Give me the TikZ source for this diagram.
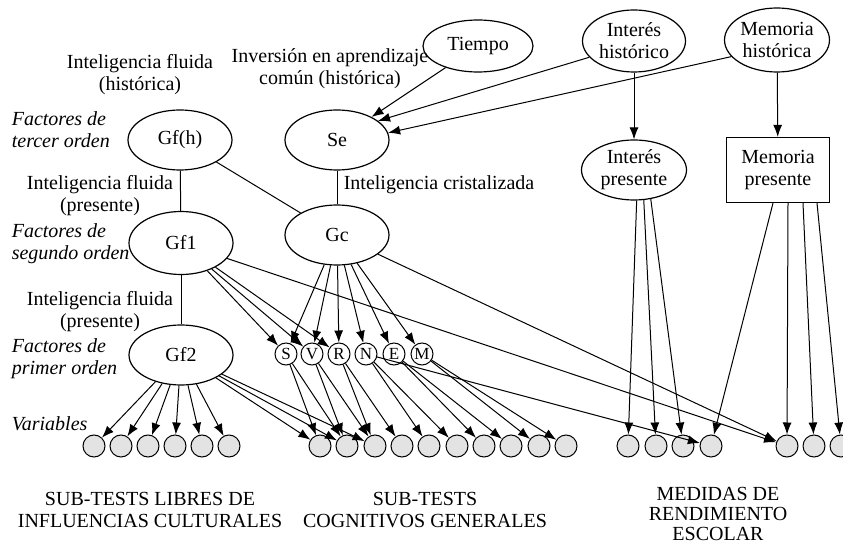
\documentclass[tikz,border=0pt]{standalone}
\usepackage{fontspec}
\setmainfont{Liberation Serif}
\usetikzlibrary{shapes.geometric,arrows.meta}

\begin{document}
\begin{tikzpicture}[x=1pt, y=-1pt, line width=1pt,
   every node/.style={font=\fontsize{20}{22}\selectfont, align=center},
   factor/.style={ellipse, draw, line width=1.2pt, inner sep=0pt, minimum width=104pt, minimum height=60pt},
   test/.style={circle, draw, inner sep=0pt, minimum size=22pt, font=\fontsize{17}{17}\selectfont},
   var/.style={circle, draw, fill=gray!22, inner sep=0pt, minimum size=22pt},
   load/.style={-{Latex[length=12pt, width=9pt]}},
   ordlabel/.style={anchor=west, align=left, font=\fontsize{20}{22}\selectfont\itshape}]
   \useasboundingbox (0,0) rectangle (843,545);

   % Factors
   \node[factor] (GfH) at (180,140) {Gf(h)};
   \node[factor] (Se) at (337,140) {Se};
   \node[factor, minimum height=63pt] (Gf1) at (181,243) {Gf1};
   \node[factor] (Gc) at (337,235) {Gc};
   \node[factor] (Gf2) at (181,355) {Gf2};
   \node[factor, minimum width=110pt, minimum height=52pt] (Tiempo) at (478,46) {Tiempo};
   \node[factor, minimum width=103pt, minimum height=62pt] (IntH) at (634,41) {Interés\\histórico};
   \node[factor, minimum width=105pt, minimum height=64pt] (MemH) at (777,40) {Memoria\\histórica};
   \node[factor, minimum width=105pt] (IntP) at (634,170) {Interés\\presente};
   \node[draw, line width=1.2pt, minimum width=103pt, minimum height=65pt, inner sep=0pt] (MemP) at (778,170) {Memoria\\presente};

   % Tests
   \node[test] (tS) at (286,354) {S};
   \node[test] (tV) at (312,354) {V};
   \node[test] (tR) at (339,354) {R};
   \node[test] (tN) at (366,354) {N};
   \node[test] (tE) at (394,354) {E};
   \node[test] (tM) at (422,354) {M};

   % Variables
   \node[var] (l1) at (94,446) {};
   \node[var] (l2) at (121,446) {};
   \node[var] (l3) at (148,446) {};
   \node[var] (l4) at (175,446) {};
   \node[var] (l5) at (202,446) {};
   \node[var] (l6) at (229,446) {};
   \node[var] (c1) at (320,446) {};
   \node[var] (c2) at (347,446) {};
   \node[var] (c3) at (375,446) {};
   \node[var] (c4) at (402,446) {};
   \node[var] (c5) at (429,446) {};
   \node[var] (c6) at (457,446) {};
   \node[var] (c7) at (484,446) {};
   \node[var] (c8) at (511,446) {};
   \node[var] (c9) at (539,446) {};
   \node[var] (c10) at (566,446) {};
   \node[var] (i1) at (628,446) {};
   \node[var] (i2) at (656,446) {};
   \node[var] (i3) at (683,446) {};
   \node[var] (i4) at (711,446) {};
   \node[var] (m1) at (787,446) {};
   \node[var] (m2) at (814,446) {};
   \node[var] (m3) at (841,446) {};

   % Labels
   \node (lblGfH) at (140,75) {Inteligencia fluida\\(histórica)};
   \node (lblSe) at (330,69) {Inversión en aprendizaje\\común (histórica)};
   \node (lblGf1) at (100,196) {Inteligencia fluida\\(presente)};
   \node[anchor=west] (lblGc) at (340,185) {Inteligencia cristalizada};
   \node (lblGf2) at (100,312) {Inteligencia fluida\\(presente)};
   \node[ordlabel] (ord3) at (8,130) {Factores de\\tercer orden};
   \node[ordlabel] (ord2) at (8,244) {Factores de\\segundo orden};
   \node[ordlabel] (ord1) at (8,359) {Factores de\\primer orden};
   \node[ordlabel] (ordVar) at (8,424) {Variables};
   \node (lblCult) at (150,510) {SUB-TESTS LIBRES DE\\INFLUENCIAS CULTURALES};
   \node (lblCog) at (425,510) {SUB-TESTS\\COGNITIVOS GENERALES};
   \node[font=\fontsize{20}{20}\selectfont, inner sep=1pt] (lblEsc) at (718,514) {MEDIDAS DE\\RENDIMIENTO\\ESCOLAR};

   % Links between factors
   \draw (GfH) -- (Gf1);
   \draw (GfH) -- (Gc);
   \draw (Se) -- (Gc);
   \draw (Gf1) -- (Gf2);
   \draw[load] (Tiempo) -- (Se);
   \draw[load] (IntH.200) -- (Se.25);
   \draw[load] (MemH.200) -- (Se.8);
   \draw[load] (IntH) -- (IntP);
   \draw[load] (MemH) -- (MemP);

   % Second order to tests
   \draw[load] (Gf1) -- (tS);
   \draw[load] (Gf1) -- (tV);
   \draw[load] (Gf1) -- (tR);
   \draw[load] (Gf1) -- (m1);
   \draw[load] (Gc) -- (tS);
   \draw[load] (Gc) -- (tV);
   \draw[load] (Gc) -- (tR);
   \draw[load] (Gc) -- (tN);
   \draw[load] (Gc) -- (tE);
   \draw[load] (Gc) -- (tM);
   \draw[load] (Gc) -- (m1);

   % First order to variables
   \draw[load] (Gf2) -- (l1);
   \draw[load] (Gf2) -- (l2);
   \draw[load] (Gf2) -- (l3);
   \draw[load] (Gf2) -- (l4);
   \draw[load] (Gf2) -- (l5);
   \draw[load] (Gf2) -- (l6);
   \draw[load] (Gf2) -- (c1);
   \draw[load] (Gf2) -- (c2);
   \draw[load] (Gf2) -- (c3);
   \draw[load] (tS) -- (c1);
   \draw[load] (tS) -- (c2);
   \draw[load] (tV) -- (c2);
   \draw[load] (tV) -- (c3);
   \draw[load] (tR) -- (c3);
   \draw[load] (tR) -- (c4);
   \draw[load] (tN) -- (c5);
   \draw[load] (tN) -- (c6);
   \draw[load] (tN) -- (i4);
   \draw[load] (tE) -- (c7);
   \draw[load] (tE) -- (c8);
   \draw[load] (tM) -- (c9);
   \draw[load] (tM) -- (c10);

   % School measures
   \draw[load] (IntP.-85) -- (i1);
   \draw[load] (IntP.-72) -- (i2);
   \draw[load] (IntP.-60) -- (i3);
   \draw[load] ([xshift=-5pt]MemP.south) -- (i4);
   \draw[load] ([xshift=10pt]MemP.south) -- (m1);
   \draw[load] ([xshift=25pt]MemP.south) -- (m2);
   \draw[load] ([xshift=39pt]MemP.south) -- (m3);
\end{tikzpicture}
\end{document}
